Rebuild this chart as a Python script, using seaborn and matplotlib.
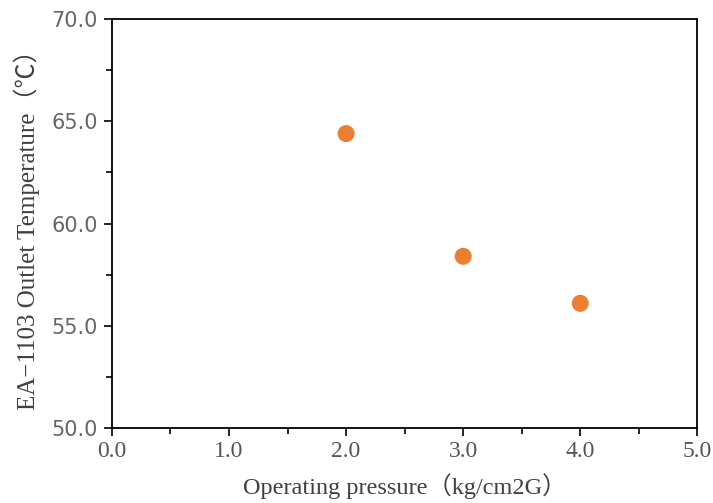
import matplotlib
matplotlib.use("Agg")
import matplotlib.pyplot as plt
import seaborn as sns
import pandas as pd
from matplotlib.ticker import MultipleLocator, FormatStrFormatter

pressure = [2.0, 3.0, 4.0]
temperature = [64.4, 58.4, 56.1]
x_label = "Operating pressure（kg/cm2G）"
y_label = "EA−1103 Outlet Temperature（℃）"

df = pd.DataFrame({"pressure": pressure, "temperature": temperature})

sns.set_style("ticks")
plt.rcParams['font.family'] = ['Liberation Serif', 'Noto Sans CJK JP', 'DejaVu Sans']

fig = plt.figure(figsize=(7.13, 5.03), dpi=100)
ax = fig.add_axes([0.157, 0.149, 0.821, 0.813])
sns.scatterplot(data=df, x="pressure", y="temperature", ax=ax,
                color="#ED7D31", s=150, edgecolor="none", zorder=3)

ax.set_xlim(0, 5)
ax.set_ylim(50, 70)
ax.xaxis.set_major_locator(MultipleLocator(1.0))
ax.xaxis.set_minor_locator(MultipleLocator(0.5))
ax.yaxis.set_major_locator(MultipleLocator(5.0))
ax.yaxis.set_minor_locator(MultipleLocator(2.5))
ax.xaxis.set_major_formatter(FormatStrFormatter("%.1f"))
ax.yaxis.set_major_formatter(FormatStrFormatter("%.1f"))

for s in ax.spines.values():
    s.set_color("black")
    s.set_linewidth(1.3)

ax.tick_params(axis="both", which="major", direction="out", length=6, width=1.2, color="black")
ax.tick_params(axis="both", which="minor", direction="out", length=4, width=1.2, color="black")
for lbl in ax.get_yticklabels():
    lbl.set_fontfamily(['DejaVu Sans'])
    lbl.set_fontsize(15)
    lbl.set_color("#666666")
for lbl in ax.get_xticklabels():
    lbl.set_fontfamily(['Liberation Serif'])
    lbl.set_fontsize(17)
    lbl.set_color("#555555")
ax.tick_params(axis="x", which="major", pad=3)
ax.tick_params(axis="y", which="major", pad=4)

label_family = ['Liberation Serif', 'Noto Sans CJK JP', 'DejaVu Sans']
ax.set_xlabel(x_label, fontsize=17.5, color="#404040", family=label_family)
ax.set_ylabel(y_label, fontsize=18, color="#404040", family=label_family)
ax.xaxis.set_label_coords(0.5, -0.11)
ax.yaxis.set_label_coords(-0.123, 0.5)

fig.savefig("out.png", dpi=100)
